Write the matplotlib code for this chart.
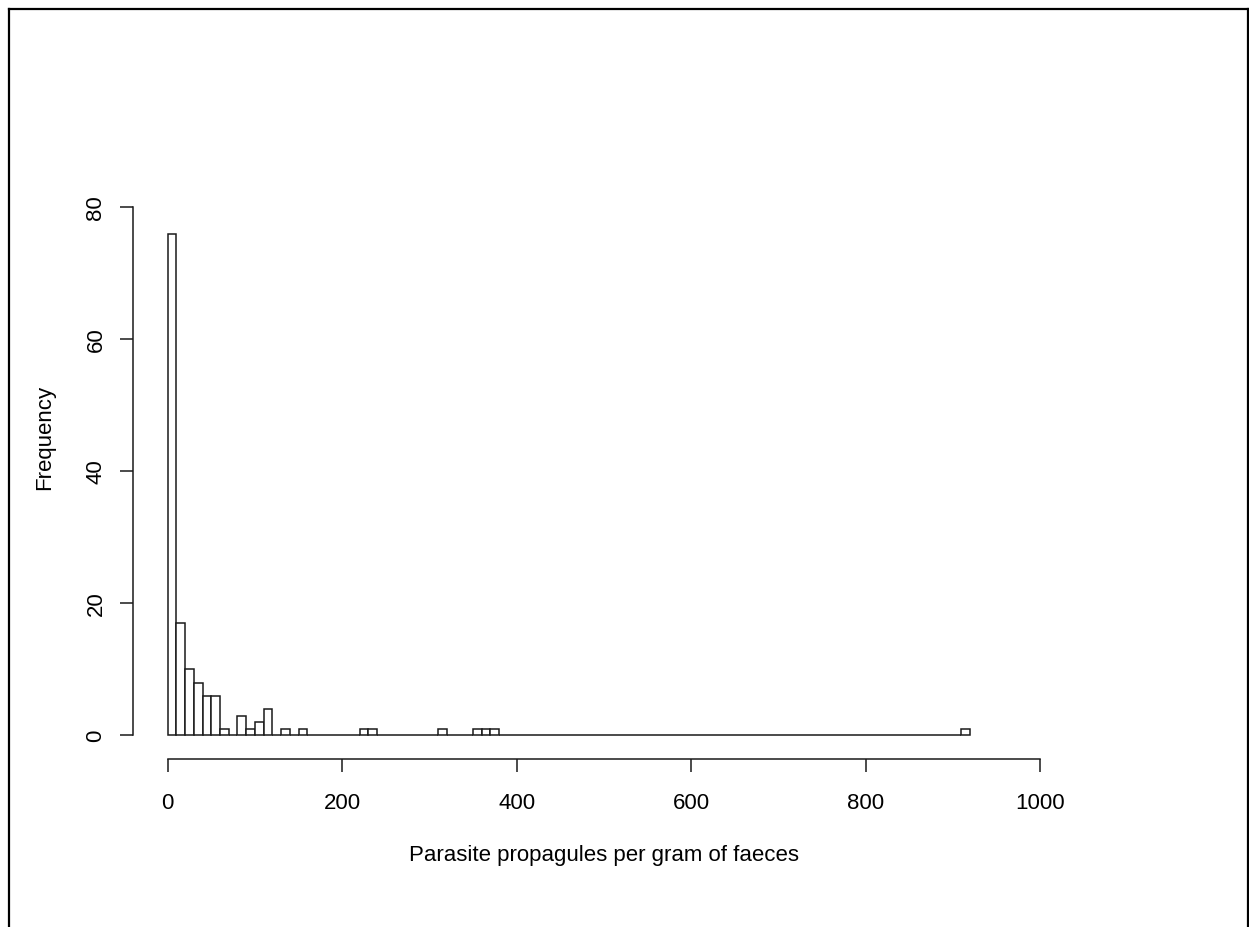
import matplotlib
matplotlib.use("Agg")
import matplotlib.pyplot as plt
from matplotlib.lines import Line2D
import numpy as np

# Histogram data (bin width 10, bins starting at these left edges)
bin_width = 10
nonzero_bin_starts = [0, 10, 20, 30, 40, 50, 60, 80, 90, 100, 110, 130, 150,
                      220, 230, 310, 350, 360, 370, 910]
nonzero_counts = [76, 17, 10, 8, 6, 6, 1, 3, 1, 2, 4, 1, 1,
                  1, 1, 1, 1, 1, 1, 1]
x_ticks = [0, 200, 400, 600, 800, 1000]
y_ticks = [0, 20, 40, 60, 80]
x_label = "Parasite propagules per gram of faeces"
y_label = "Frequency"

edges = np.arange(0, 920 + bin_width, bin_width)
counts = np.zeros(len(edges) - 1)
for s, c in zip(nonzero_bin_starts, nonzero_counts):
    counts[s // bin_width] = c

plt.rcParams['font.family'] = ['Liberation Sans', 'DejaVu Sans']

W, H = 1249, 927
fig = plt.figure(figsize=(W / 100, H / 100), dpi=100)
ax = fig.add_axes([132.8 / W, 1 - 759.1 / H, (1074.9 - 132.8) / W, (759.1 - 117.5) / H])

ax.bar(edges[:-1], counts, width=bin_width, align='edge', facecolor='white',
       edgecolor='#1a1a1a', linewidth=1.1)

ax.set_xlim(-40, 1040)
ax.set_ylim(-3.6, 93.6)
for sp in ['top', 'right']:
    ax.spines[sp].set_visible(False)
ax.spines['bottom'].set_bounds(0, 1000)
ax.spines['left'].set_bounds(0, 80)
for sp in ['bottom', 'left']:
    ax.spines[sp].set_linewidth(1.1)
    ax.spines[sp].set_color('#1a1a1a')

ax.set_xticks(x_ticks)
ax.set_yticks(y_ticks)
ax.set_yticklabels([str(v) for v in y_ticks], rotation=90, va='center')
ax.tick_params(axis='x', length=9.5, width=1.1, color='#1a1a1a', pad=15, labelsize=16)
ax.tick_params(axis='y', length=9.5, width=1.1, color='#1a1a1a', pad=9.5, labelsize=16)

fig.text(604 / W, 1 - 856 / H, x_label, ha='center', va='center', fontsize=16)
fig.text(45 / W, 1 - 437 / H, y_label, ha='center', va='center', rotation=90, fontsize=16)

# Outer border
lw = 1.6
fig.add_artist(Line2D([8.5 / W, 8.5 / W], [0, 1 - 8.5 / H], color='black', lw=lw, transform=fig.transFigure))
fig.add_artist(Line2D([8.5 / W, 1247.5 / W], [1 - 8.5 / H, 1 - 8.5 / H], color='black', lw=lw, transform=fig.transFigure))
fig.add_artist(Line2D([1247.5 / W, 1247.5 / W], [0, 1 - 8.5 / H], color='black', lw=lw, transform=fig.transFigure))

fig.savefig("out.png", dpi=100)
